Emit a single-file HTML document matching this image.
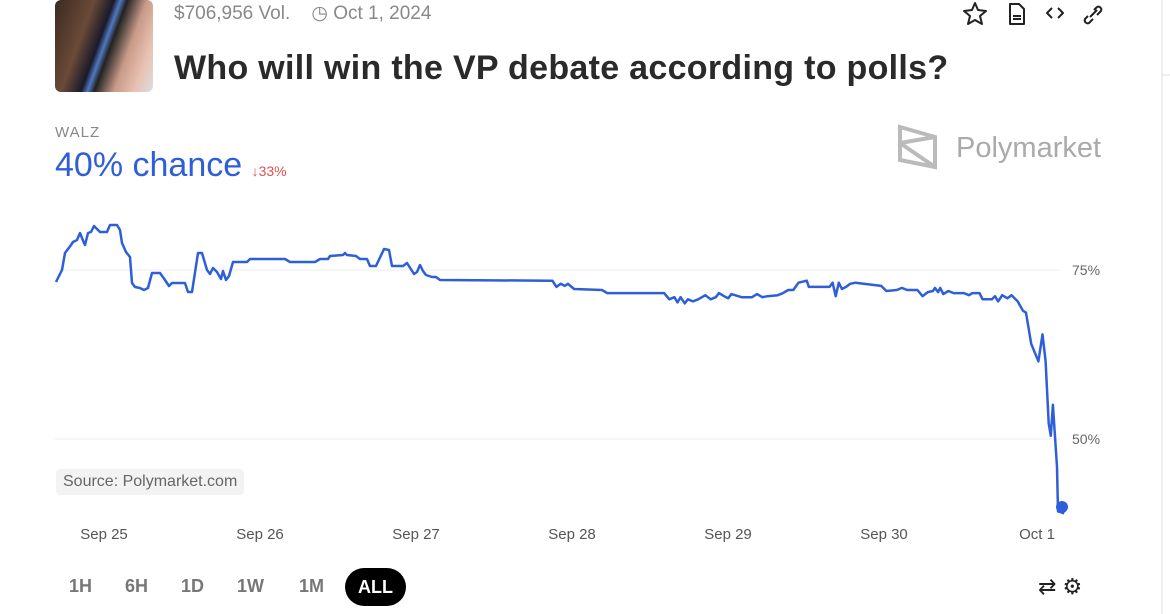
<!DOCTYPE html><html><head><style>
body{margin:0;width:1170px;height:614px;overflow:hidden;background:#fff;font-family:"Liberation Sans",sans-serif;position:relative}
.a{position:absolute;white-space:nowrap}
</style></head><body>
<div class="a" style="left:55px;top:0;width:98px;height:92px;border-radius:6px;background:linear-gradient(110deg,#3a2a20 0%,#6b4a38 30%,#1a1a2a 45%,#5078c0 50%,#222 55%,#c89a88 70%,#e8c0b0 85%,#ddd 100%)"></div>
<div class="a" style="left:174px;top:2px;font-size:19px;color:#888">$706,956 Vol.&nbsp;&nbsp;&nbsp; ◷ Oct 1, 2024</div>
<div class="a" style="left:174px;top:49px;font-size:34px;font-weight:bold;color:#2a2a2a;letter-spacing:0.3px">Who will win the VP debate according to polls?</div>
<svg class="a" style="left:960px;top:0" width="160" height="30" fill="none" stroke="#222" stroke-width="2" stroke-linejoin="round">
<polygon points="15,3 18,10 26,11 20,16 22,24 15,20 8,24 10,16 4,11 12,10"/>
<path d="M50,4 h9 l5,5 v15 h-14 z M53,16 h8 M53,19 h8" />
<path d="M92,8 l-5,5 l5,5 M98,8 l5,5 l-5,5"/>
<path d="M128,16 l-3,3 a3,3 0 0 0 4,4 l4,-4 M134,10 l3,-3 a3,3 0 0 1 4,4 l-4,4 M130,17 l7,-7"/>
</svg>
<div class="a" style="left:55px;top:124px;font-size:15px;color:#888;letter-spacing:1px">WALZ</div>
<div class="a" style="left:55px;top:146px;font-size:34px;color:#2e5fd8">40% chance <span style="font-size:14px;color:#e05050">↓33%</span></div>
<svg class="a" style="left:0;top:0" width="1170" height="614">
<polygon points="900,127 935,137 935,167 900,160" fill="none" stroke="#bbb" stroke-width="4"/>
<path d="M900,143 L935,137 M900,143 L935,167" stroke="#bbb" stroke-width="4" fill="none"/>
<text x="956" y="157" font-size="29" fill="#aaa" font-family="Liberation Sans">Polymarket</text>
<line x1="55" y1="270" x2="1060" y2="270" stroke="#eee"/>
<line x1="55" y1="439" x2="1060" y2="439" stroke="#eee"/>
<text x="1072" y="275" font-size="14" fill="#666">75%</text>
<text x="1072" y="444" font-size="14" fill="#666">50%</text>
<path id="p" fill="none" stroke="#2e5fd8" stroke-width="2.5" stroke-linejoin="round"/>
<circle cx="1062" cy="507" r="6" fill="#2e5fd8"/>
<line x1="1162" y1="0" x2="1162" y2="614" stroke="#eee" stroke-width="2"/>
<line x1="1162" y1="75" x2="1170" y2="75" stroke="#ddd"/>
<g font-size="15" fill="#555" text-anchor="middle"><text x="104" y="539">Sep 25</text><text x="260" y="539">Sep 26</text><text x="416" y="539">Sep 27</text><text x="572" y="539">Sep 28</text><text x="728" y="539">Sep 29</text><text x="884" y="539">Sep 30</text><text x="1037" y="539">Oct 1</text></g>
</svg>
<div class="a" style="left:56px;top:469px;padding:4px 7px;background:#f3f3f3;border-radius:4px;font-size:16px;color:#666">Source: Polymarket.com</div>
<div class="a" style="left:69px;top:576px;font-size:18px;color:#777;font-weight:bold;word-spacing:0">
<span style="position:absolute;left:0">1H</span><span style="position:absolute;left:56px">6H</span><span style="position:absolute;left:112px">1D</span><span style="position:absolute;left:168px">1W</span><span style="position:absolute;left:230px">1M</span></div>
<div class="a" style="left:345px;top:568px;width:61px;height:38px;border-radius:19px;background:#000;color:#fff;font-weight:bold;font-size:18px;text-align:center;line-height:38px">ALL</div>
<div class="a" style="left:1038px;top:574px;font-size:22px;color:#222">⇄ ⚙</div>
<script>
var a=[[56,282],[62,270],[65,253],[71,245],[73,242],[77,240],[80,233],[84,243],[85,245],[88,233],[91,232],[94,226],[98,230],[100,232],[107,232],[110,225],[117,225],[120,230],[122,243],[126,252],[130,257],[132,283],[135,287],[140,288],[144,290],[148,288],[152,273],[160,273],[165,280],[169,286],[172,283],[185,283],[188,292],[192,292],[198,253],[202,253],[207,270],[210,274],[213,268],[217,272],[221,279],[223,271],[226,280],[229,276],[233,262],[247,262],[250,259],[285,259],[290,262],[315,262],[320,259],[328,259],[330,256],[343,255],[345,253],[347,255],[356,256],[360,259],[367,259],[370,266],[376,266],[384,249],[389,250],[392,266],[403,266],[407,263],[414,274],[417,272],[420,265],[423,271],[426,275],[432,277],[436,277],[440,280]];
var b=[[550,280],[552,280],[556,286],[560,283],[564,285],[567,283],[573,288],[600,289],[605,292],[660,292],[665,298],[670,296],[673,301],[676,296],[680,302],[683,298],[688,300],[693,298],[700,294],[705,298],[710,296],[713,292],[718,295],[722,297],[725,293],[735,296],[745,296],[750,293],[755,296],[760,295],[770,294],[775,292],[780,289],[785,289],[790,282],[798,280],[800,286],[820,286],[823,282],[826,295],[829,282],[832,288],[836,286],[840,283],[845,282],[870,285],[875,290],[885,289],[890,287],[895,289],[905,289],[910,295],[915,291],[920,290],[922,287],[925,291],[927,287],[930,293],[935,290],[940,292],[950,292],[955,294],[958,292],[965,292],[968,298],[977,298],[980,295],[983,300],[987,294],[992,297],[996,294],[1002,300],[1007,309],[1010,311],[1015,341],[1022,358],[1026,332],[1029,358],[1032,418],[1034,430],[1036,400],[1040,460],[1041,503],[1047,505]];
b=b.map(function(p){return [540+(p[0]-540)*1.034,260+(p[1]-260)*1.034]});
var all=a.concat(b);
document.getElementById('p').setAttribute('d','M'+all.map(function(p){return p[0].toFixed(1)+','+p[1].toFixed(1)}).join(' L'));
</script>
</body></html>
